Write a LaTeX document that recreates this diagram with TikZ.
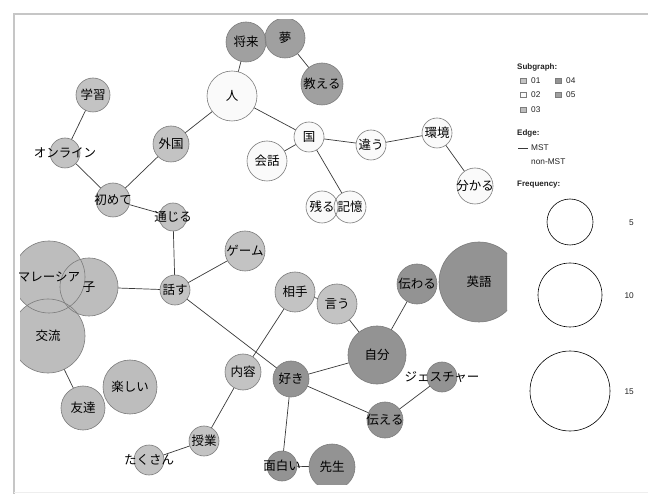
\documentclass[tikz,border=0pt]{standalone}
\usepackage{fontspec}
\setmainfont{Liberation Sans}
\newfontfamily\cjk{Noto Sans CJK JP}
\definecolor{cA}{HTML}{C3C3C3}
\definecolor{cB}{HTML}{FAFAFA}
\definecolor{cC}{HTML}{BDBDBD}
\definecolor{cD}{HTML}{939393}
\definecolor{cE}{HTML}{A0A0A0}
\definecolor{edgegray}{HTML}{3A3A3A}
\definecolor{ringgray}{HTML}{7C7C7C}
\definecolor{framegray}{HTML}{C6C6C6}
\definecolor{legendtext}{HTML}{222222}
\pgfdeclarelayer{edgelayer}
\pgfdeclarelayer{filllayer}
\pgfdeclarelayer{linelayer}
\pgfsetlayers{edgelayer,filllayer,linelayer,main}
\newcommand\bub[6]{%
  \node[bubtext] (#1) at (#2,#3) {#6};
  \begin{pgfonlayer}{filllayer}
    \begin{scope}\clip (20,20) rectangle (507,484);
      \fill[#5] (#2,#3) circle[radius=#4];
    \end{scope}
  \end{pgfonlayer}
  \begin{pgfonlayer}{linelayer}
    \begin{scope}\clip (20,20) rectangle (507,484);
      \draw[bubline] (#2,#3) circle[radius=#4];
    \end{scope}
  \end{pgfonlayer}}
\begin{document}
\begin{tikzpicture}[x=1pt,y=-1pt,
  edge/.style={draw=edgegray, line width=0.7pt},
  bubtext/.style={font=\cjk\fontsize{12.5}{13}\selectfont, inner sep=0pt, text=black},
  bubline/.style={draw=ringgray, line width=0.6pt},
  legtext/.style={font=\fontsize{8.3}{9}\selectfont, inner sep=0pt, anchor=west, text=legendtext},
  leghead/.style={font=\bfseries\fontsize{8}{9}\selectfont, inner sep=0pt, anchor=west, text=legendtext},
  legbox/.style={draw=ringgray, line width=0.5pt},
  freqring/.style={draw=black, line width=0.6pt, fill=white},
]
\useasboundingbox (0,0) rectangle (648,494);
\begin{pgfonlayer}{edgelayer}
\fill[white] (0,0) rectangle (648,494);
\end{pgfonlayer}
% frame
\draw[framegray, line width=2pt] (14,494) -- (14,14) -- (648,14);
\draw[framegray!30, line width=1pt] (14,492) -- (648,492);

% nodes
\bub{shourai}{246}{42}{20}{cE}{将来}
\bub{yume}{285}{38}{20}{cE}{夢}
\bub{oshieru}{322}{84}{21}{cE}{教える}
\bub{hito}{232}{96}{25}{cB}{人}
\bub{gakushu}{93}{95}{17}{cA}{学習}
\bub{online}{65}{153}{15}{cA}{オンライン}
\bub{gaikoku}{171}{144}{18}{cA}{外国}
\bub{hajimete}{113}{200}{17}{cA}{初めて}
\bub{tsujiru}{173}{217}{14}{cA}{通じる}
\bub{kaiwa}{267}{161}{20}{cB}{会話}
\bub{kuni}{309}{137}{15}{cB}{国}
\bub{chigau}{371}{145}{15}{cB}{違う}
\bub{kankyo}{437}{133}{15}{cB}{環境}
\bub{wakaru}{475}{186}{18}{cB}{分かる}
\bub{nokoru}{322}{207}{16}{cB}{残る}
\bub{kioku}{350}{207}{16}{cB}{記憶}
\bub{hanasu}{175}{290}{15}{cA}{話す}
\bub{game}{245}{251}{20}{cA}{ゲーム}
\bub{malaysia}{49}{277}{36}{cC}{マレーシア}
\bub{ko}{89}{287}{29}{cC}{子}
\bub{koryu}{48}{336}{37}{cC}{交流}
\bub{tomodachi}{83}{408}{22}{cC}{友達}
\bub{tanoshii}{130}{387}{27}{cC}{楽しい}
\bub{aite}{295}{292}{20}{cA}{相手}
\bub{iu}{337}{304}{20}{cA}{言う}
\bub{naiyo}{243}{372}{18}{cA}{内容}
\bub{jugyo}{204}{441}{15}{cA}{授業}
\bub{takusan}{149}{460}{15}{cA}{たくさん}
\bub{suki}{291}{379}{18}{cD}{好き}
\bub{omoshiroi}{282}{466}{15}{cD}{面白い}
\bub{sensei}{332}{467}{23}{cD}{先生}
\bub{jibun}{377}{355}{29}{cD}{自分}
\bub{tsutawaru}{417}{284}{20}{cD}{伝わる}
\bub{eigo}{479}{282}{40}{cD}{英語}
\bub{gesture}{442}{377}{15}{cD}{ジェスチャー}
\bub{tsutaeru}{385}{420}{18}{cD}{伝える}

% edges
\begin{pgfonlayer}{edgelayer}
\draw[edge] (shourai.center) -- (hito.center);
\draw[edge] (yume.center) -- (oshieru.center);
\draw[edge] (hito.center) -- (gaikoku.center);
\draw[edge] (hito.center) -- (kuni.center);
\draw[edge] (kuni.center) -- (kaiwa.center);
\draw[edge] (kuni.center) -- (chigau.center);
\draw[edge] (kuni.center) -- (kioku.center);
\draw[edge] (chigau.center) -- (kankyo.center);
\draw[edge] (kankyo.center) -- (wakaru.center);
\draw[edge] (gakushu.center) -- (online.center);
\draw[edge] (online.center) -- (hajimete.center);
\draw[edge] (hajimete.center) -- (gaikoku.center);
\draw[edge] (hajimete.center) -- (tsujiru.center);
\draw[edge] (tsujiru.center) -- (hanasu.center);
\draw[edge] (hanasu.center) -- (game.center);
\draw[edge] (hanasu.center) -- (ko.center);
\draw[edge] (hanasu.center) -- (suki.center);
\draw[edge] (koryu.center) -- (tomodachi.center);
\draw[edge] (aite.center) -- (naiyo.center);
\draw[edge] (aite.center) -- (iu.center);
\draw[edge] (naiyo.center) -- (jugyo.center);
\draw[edge] (jugyo.center) -- (takusan.center);
\draw[edge] (suki.center) -- (jibun.center);
\draw[edge] (suki.center) -- (tsutaeru.center);
\draw[edge] (suki.center) -- (omoshiroi.center);
\draw[edge] (omoshiroi.center) -- (sensei.center);
\draw[edge] (iu.center) -- (jibun.center);
\draw[edge] (jibun.center) -- (tsutawaru.center);
\draw[edge] (tsutaeru.center) -- (gesture.center);
\end{pgfonlayer}

% legend
\node[leghead] (lsub) at (517,67) {Subgraph:};
\node[legbox, fill=cA, minimum size=5.5pt, inner sep=0pt] (b01) at (523,81) {};
\node[legtext] (t01) at (531,81) {01};
\node[legbox, fill=cD, minimum size=5.5pt, inner sep=0pt] (b04) at (558,81) {};
\node[legtext] (t04) at (566,81) {04};
\node[legbox, fill=cB, minimum size=5.5pt, inner sep=0pt] (b02) at (523,95) {};
\node[legtext] (t02) at (531,95) {02};
\node[legbox, fill=cE, minimum size=5.5pt, inner sep=0pt] (b05) at (558,95) {};
\node[legtext] (t05) at (566,95) {05};
\node[legbox, fill=cC, minimum size=5.5pt, inner sep=0pt] (b03) at (523,110) {};
\node[legtext] (t03) at (531,110) {03};
\node[leghead] (ledge) at (517,133) {Edge:};
\coordinate (mstA) at (518,148);
\coordinate (mstB) at (528,148);
\draw[edgegray, line width=0.6pt] (mstA) -- (mstB);
\node[legtext] (tmst) at (531,148) {MST};
\node[legtext] (tnon) at (531,162) {non-MST};
\node[leghead] (lfreq) at (517,185) {Frequency:};
\node[freqring, circle, minimum size=46pt, inner sep=0pt] (f5) at (570,222) {};
\node[freqring, circle, minimum size=64pt, inner sep=0pt] (f10) at (570,295) {};
\node[freqring, circle, minimum size=80pt, inner sep=0pt] (f15) at (570,391) {};
\node[legtext, anchor=east] (n5) at (634,223) {5};
\node[legtext, anchor=east] (n10) at (634,296) {10};
\node[legtext, anchor=east] (n15) at (634,392) {15};
\end{tikzpicture}
\end{document}
